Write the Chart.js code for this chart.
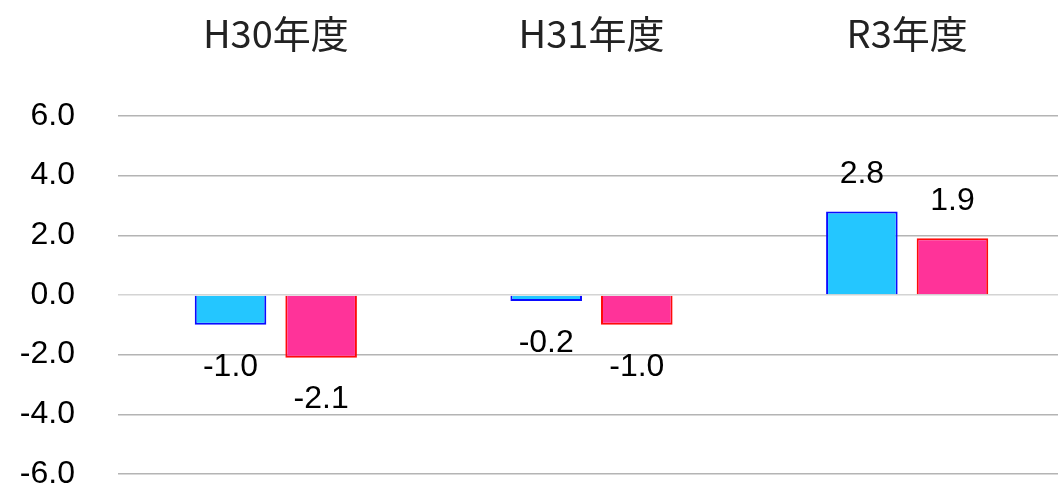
<!DOCTYPE html>
<html><head><meta charset="utf-8">
<script src="https://cdn.jsdelivr.net/npm/chart.js@4/dist/chart.umd.min.js"></script>
<style>html,body{margin:0;padding:0;background:#fff;overflow:hidden}#wrap{width:1058px;height:490px;overflow:hidden}canvas{display:block}</style>
</head><body><div id="wrap"><canvas id="c" width="1065" height="490"></canvas></div>
<script>
const categories = ["H30年度", "H31年度", "R3年度"];
const seriesA = [-1.0, -0.2, 2.8];
const seriesB = [-2.1, -1.0, 1.9];
const yTicks = [-6, -4, -2, 0, 2, 4, 6];

const labelPlugin = {
  id: 'valueLabels',
  afterDatasetsDraw(chart) {
    const ctx = chart.ctx;
    ctx.save();
    ctx.font = '32px "Liberation Sans", Arial, sans-serif';
    ctx.fillStyle = '#000';
    ctx.textAlign = 'center';
    ctx.textBaseline = 'middle';
    chart.data.datasets.forEach((ds, di) => {
      const meta = chart.getDatasetMeta(di);
      meta.data.forEach((el, i) => {
        const v = ds.data[i];
        const y = v >= 0 ? el.y - 37 : el.y + 42;
        ctx.fillText(v.toFixed(1), el.x, y);
      });
    });
    ctx.restore();
  }
};

new Chart(document.getElementById('c'), {
  type: 'bar',
  data: {
    labels: categories,
    datasets: [
      { data: seriesA, backgroundColor: '#24C6FF', borderColor: '#0A0AFF', borderWidth: 2, categoryPercentage: 0.574, barPercentage: 0.79 },
      { data: seriesB, backgroundColor: '#FF3399', borderColor: '#FF0A0A', borderWidth: 2, categoryPercentage: 0.574, barPercentage: 0.79 }
    ]
  },
  options: {
    responsive: false, animation: false, devicePixelRatio: 1,
    layout: { padding: { top: 0, bottom: 16, left: 0, right: 0 } },
    plugins: { legend: { display: false }, tooltip: { enabled: false } },
    scales: {
      x: {
        position: 'top',
        afterFit(axis) { axis.height = 116; axis.paddingLeft = 0; axis.paddingRight = 0; },
        grid: { display: false, drawTicks: false },
        border: { display: false },
        ticks: { padding: 60, color: '#222', font: { family: '"Noto Sans CJK JP", sans-serif', size: 38 } }
      },
      y: {
        min: -6, max: 6,
        afterBuildTicks(axis) { axis.ticks = yTicks.map(v => ({ value: v })); },
        afterFit(axis) { axis.width = 118; axis.paddingTop = 0; axis.paddingBottom = 0; },
        grid: { color: ctx => (ctx.tick && ctx.tick.value === 0 ? '#d4d4d4' : '#b4b4b4'), lineWidth: 1.5, drawTicks: false },
        border: { display: false },
        ticks: { padding: 43, color: '#000', font: { family: '"Liberation Sans", Arial, sans-serif', size: 32 }, callback: v => v.toFixed(1) }
      }
    }
  },
  plugins: [labelPlugin]
});
</script></body></html>
